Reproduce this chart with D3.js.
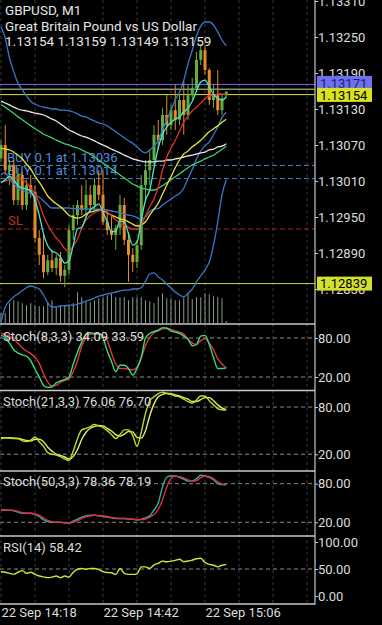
<!DOCTYPE html>
<html><head><meta charset="utf-8">
<script src="https://cdn.jsdelivr.net/npm/d3@7"></script>
<style>
html,body{margin:0;padding:0;background:#000;overflow:hidden;}
svg{display:block;}
text{font-family:Roboto,"Noto Sans",sans-serif;}
</style></head><body>
<svg id="c" width="382" height="625"></svg>
<script>
// ---------- DATA ----------
const titleLines = ["GBPUSD, M1", "Great Britain Pound vs US Dollar", "1.13154 1.13159 1.13149 1.13159"];
const timeLabels = ["22 Sep 14:18", "22 Sep 14:42", "22 Sep 15:06"];
const timeLabelBars = [0, 24, 48];
const priceTicks = [1.13310, 1.13250, 1.13190, 1.13130, 1.13070, 1.13010, 1.12950, 1.12890, 1.12830];

const opens = [1.13048,1.13070,1.13028,1.13037,1.12978,1.13020,1.12970,1.13003,1.12992,1.12915,1.12887,1.12858,1.12878,1.12865,1.12882,1.12852,1.12862,1.12928,1.12953,1.12970,1.12962,1.12987,1.12970,1.13003,1.12987,1.12942,1.12928,1.12920,1.12932,1.12970,1.12912,1.12887,1.12875,1.12903,1.13003,1.13028,1.13045,1.13087,1.13078,1.13120,1.13103,1.13128,1.13112,1.13145,1.13120,1.13153,1.13165,1.13212,1.13228,1.13195,1.13145,1.13153,1.13128,1.13154];
const highs = [1.13078,1.13103,1.13045,1.13045,1.13032,1.13025,1.13012,1.13020,1.13003,1.12928,1.12920,1.12887,1.12895,1.12887,1.12892,1.12870,1.12937,1.12970,1.12978,1.13003,1.13012,1.13003,1.13015,1.13028,1.13028,1.12962,1.12953,1.12937,1.12987,1.12982,1.12925,1.12898,1.12912,1.13020,1.13045,1.13062,1.13103,1.13112,1.13132,1.13153,1.13137,1.13170,1.13153,1.13178,1.13170,1.13182,1.13225,1.13238,1.13235,1.13198,1.13170,1.13195,1.13153,1.13159];
const lows = [1.13042,1.13020,1.13003,1.12970,1.12970,1.12962,1.12962,1.12982,1.12908,1.12870,1.12848,1.12853,1.12858,1.12853,1.12842,1.12833,1.12853,1.12912,1.12937,1.12953,1.12948,1.12958,1.12962,1.12978,1.12937,1.12920,1.12912,1.12895,1.12920,1.12903,1.12842,1.12858,1.12865,1.12895,1.12978,1.13003,1.13037,1.13062,1.13070,1.13087,1.13095,1.13095,1.13103,1.13087,1.13112,1.13145,1.13158,1.13203,1.13187,1.13137,1.13132,1.13120,1.13120,1.13149];
const closes = [1.13070,1.13028,1.13037,1.12978,1.13020,1.12970,1.13003,1.12992,1.12915,1.12887,1.12858,1.12878,1.12865,1.12882,1.12852,1.12862,1.12928,1.12953,1.12970,1.12962,1.12987,1.12970,1.13003,1.12987,1.12942,1.12928,1.12920,1.12932,1.12970,1.12912,1.12887,1.12875,1.12903,1.13003,1.13028,1.13045,1.13087,1.13078,1.13120,1.13103,1.13128,1.13112,1.13145,1.13120,1.13153,1.13165,1.13212,1.13228,1.13195,1.13145,1.13153,1.13128,1.13148,1.13159];
const volumes = [30,30,60,69,66,60,54,60,54,51,51,63,69,48,54,54,54,60,93,78,66,63,69,75,78,84,90,78,78,78,69,78,78,78,69,66,60,78,90,75,75,69,69,78,90,72,78,78,90,87,81,78,75,6];

const maFast = [1.13007,1.13012,1.13018,1.13012,1.13002,1.12998,1.12997,1.12993,1.12978,1.12953,1.12922,1.12902,1.12893,1.12890,1.12883,1.12873,1.12877,1.12903,1.12930,1.12933,1.12950,1.12962,1.12967,1.12972,1.12958,1.12942,1.12925,1.12927,1.12943,1.12942,1.12922,1.12903,1.12908,1.12945,1.12978,1.12995,1.13032,1.13065,1.13088,1.13100,1.13108,1.13113,1.13117,1.13125,1.13132,1.13143,1.13160,1.13175,1.13178,1.13167,1.13155,1.13148,1.13145,1.13150];
const maRed = [1.13008,1.13010,1.13012,1.13013,1.13015,1.13012,1.13007,1.12998,1.12988,1.12973,1.12952,1.12937,1.12925,1.12915,1.12907,1.12897,1.12893,1.12902,1.12913,1.12932,1.12945,1.12952,1.12957,1.12960,1.12962,1.12958,1.12952,1.12945,1.12940,1.12937,1.12933,1.12930,1.12930,1.12937,1.12952,1.12967,1.12980,1.13000,1.13028,1.13050,1.13065,1.13078,1.13093,1.13108,1.13118,1.13127,1.13133,1.13140,1.13147,1.13152,1.13153,1.13155,1.13155,1.13153];
const maYellow = [1.13065,1.13063,1.13062,1.13058,1.13053,1.13047,1.13038,1.13030,1.13018,1.13008,1.12997,1.12985,1.12978,1.12972,1.12967,1.12960,1.12953,1.12950,1.12948,1.12950,1.12955,1.12958,1.12960,1.12962,1.12960,1.12957,1.12953,1.12950,1.12947,1.12945,1.12942,1.12938,1.12935,1.12937,1.12942,1.12953,1.12963,1.12973,1.12988,1.13003,1.13017,1.13032,1.13045,1.13055,1.13060,1.13067,1.13072,1.13078,1.13085,1.13092,1.13097,1.13102,1.13108,1.13113];
const maGreen = [1.13137,1.13133,1.13128,1.13123,1.13117,1.13112,1.13107,1.13102,1.13097,1.13093,1.13088,1.13085,1.13082,1.13078,1.13075,1.13072,1.13070,1.13067,1.13065,1.13062,1.13058,1.13055,1.13050,1.13045,1.13040,1.13035,1.13030,1.13025,1.13020,1.13015,1.13010,1.13005,1.13002,1.12998,1.12997,1.12995,1.12995,1.12998,1.13002,1.13007,1.13012,1.13017,1.13022,1.13027,1.13032,1.13037,1.13040,1.13043,1.13047,1.13050,1.13053,1.13058,1.13063,1.13068];
const maWhite = [1.13143,1.13140,1.13137,1.13133,1.13130,1.13128,1.13127,1.13125,1.13123,1.13122,1.13120,1.13117,1.13113,1.13110,1.13105,1.13100,1.13095,1.13092,1.13088,1.13085,1.13083,1.13080,1.13077,1.13073,1.13070,1.13067,1.13063,1.13060,1.13057,1.13053,1.13050,1.13047,1.13045,1.13043,1.13042,1.13042,1.13042,1.13043,1.13043,1.13045,1.13045,1.13047,1.13048,1.13050,1.13052,1.13053,1.13055,1.13057,1.13058,1.13062,1.13063,1.13067,1.13068,1.13072];
const bbUpper = [1.13267,1.13248,1.13215,1.13192,1.13173,1.13162,1.13152,1.13143,1.13138,1.13135,1.13133,1.13132,1.13130,1.13130,1.13128,1.13128,1.13127,1.13125,1.13122,1.13118,1.13117,1.13113,1.13110,1.13107,1.13105,1.13102,1.13097,1.13092,1.13087,1.13082,1.13077,1.13073,1.13067,1.13060,1.13057,1.13062,1.13068,1.13078,1.13095,1.13112,1.13128,1.13145,1.13158,1.13178,1.13205,1.13228,1.13252,1.13268,1.13275,1.13275,1.13270,1.13258,1.13245,1.13235];
const bbMiddle = [1.13021,1.13024,1.13013,1.13005,1.12998,1.12995,1.12992,1.12989,1.12986,1.12983,1.12977,1.12970,1.12965,1.12965,1.12965,1.12965,1.12965,1.12964,1.12964,1.12963,1.12964,1.12963,1.12963,1.12963,1.12963,1.12962,1.12960,1.12959,1.12957,1.12955,1.12953,1.12952,1.12949,1.12946,1.12950,1.12959,1.12963,1.12964,1.12970,1.12975,1.12980,1.12985,1.12989,1.12998,1.13014,1.13029,1.13047,1.13060,1.13069,1.13075,1.13087,1.13100,1.13116,1.13124];
const bbLower = [1.12775,1.12800,1.12810,1.12817,1.12822,1.12827,1.12832,1.12835,1.12833,1.12830,1.12820,1.12807,1.12800,1.12800,1.12802,1.12802,1.12803,1.12803,1.12805,1.12807,1.12810,1.12812,1.12815,1.12818,1.12820,1.12822,1.12823,1.12825,1.12827,1.12828,1.12828,1.12830,1.12830,1.12832,1.12843,1.12855,1.12857,1.12850,1.12845,1.12838,1.12832,1.12825,1.12820,1.12817,1.12823,1.12830,1.12842,1.12852,1.12862,1.12875,1.12903,1.12942,1.12987,1.13012];

const alertPrice = 1.13171, askPrice = 1.13163, bidPrice = 1.13154, lowLevel = 1.12839;
const orderPrices = [1.13036, 1.13014];
const orderLabels = ["BUY 0.1 at 1.13036", "BUY 0.1 at 1.13014"];
const slPrice = 1.12930;

const stoch8K = [84,81,72,62,57,54,52,45,32,20,7,4,5,11,14,16,20,40,58,74,86,88,87,87,80,60,44,28,38,38,33,23,33,50,80,87,90,92,96,95,91,89,87,83,78,68,70,83,84,70,50,33,33,34.09];
const stoch8D = [87,85,83,78,72,65,60,56,50,41,25,12,6,7,12,15,17,28,45,68,80,86,86,86,84,76,57,40,33,33,32,31,35,50,68,81,88,91,94,95,93,91,89,86,78,72,70,76,79,72,62,48,40,33.59];
const stoch21K = [40,41,40.5,40,40,37,36,38,42,36,30,22,20,19,17,14,12,24,40,51,53,55,58,56,54,50,45,40,45,51,51,44,30,48,72,88,93,97,99,97,96,94,93,90,87,85,89,94,94,88,83,78,76.5,76.06];
const stoch21D = [41,41,41,40.5,40,39,37.5,37,39,39,36,29,24,20,18.5,16.5,14,17,26,39,48,53,55.5,56.5,56,53,49.5,45,43,45.5,49,48.5,41.5,40.5,50,69,84,93,96,97.5,97,95.5,94,92,90,87,87,89.5,92,92,88,83,79,76.70];
const stoch50K = [39,39,39,38,36,34,34,34,32,29,24,21,20,20,20,19,19,22,25,28,30,31,31,30,29.5,28,27,26,26,26,25,25,23.5,25,27,30,39,50,75,90,92,92,90,87,84,84,88,93,92,90,86,80,78.5,78.36];
const stoch50D = [40,39.5,39,38.5,37,35,34,34,33,31,27,23,21,20,20,19.5,19,20,22.5,26,28.5,30,31,30.5,30,29,27.5,26.5,26,26,25.5,25,24.5,24,25,28,32,40,55,75,88,91.5,91,89,86,84,85,89.5,92,91,88,83,79.5,78.19];
const rsi14 = [45,44,42,40.5,44,47,42,44,40,37,35.5,34,35,37,34,37,35,44,49.5,51,49.5,51,51,49,45,43.5,43,40,51,42,40,40,41,54,54,51,57.5,60.5,64.5,63.5,64.5,66,68,63.5,64.8,66.5,69,70,62,58.7,57,54,57,58.42];

// ---------- LAYOUT ----------
const AX = 315;          // right axis x
const svg = d3.select("#c");
svg.append("rect").attr("width",382).attr("height",625).attr("fill","#000");
const defs = svg.append("defs");
function clipRect(id, y0, y1){
  defs.append("clipPath").attr("id",id).append("rect").attr("x",0).attr("y",y0).attr("width",AX).attr("height",y1-y0);
  return `url(#${id})`;
}
const nBars = closes.length;
const x = d3.scaleLinear().domain([0, 73.88]).range([1, AX]);
const idx = d3.range(nBars);

// vertical grid
const gridBars = d3.range(0, 74, 8);
svg.append("g").selectAll("line").data(gridBars).join("line")
  .attr("x1", d=>x(d)).attr("x2", d=>x(d)).attr("y1",0).attr("y2",604)
  .attr("stroke","#3a3a3a").attr("stroke-width",1).attr("stroke-dasharray","3,3");

// ---------- MAIN PANEL ----------
const yM = d3.scaleLinear().domain([1.12790, 1.13310]).range([313, 1]);
const yVol = d3.scaleLinear().domain([0, 100]).range([323, 290]);
const main = svg.append("g").attr("clip-path", clipRect("cm", 0, 323));

// volumes
main.append("g").selectAll("line").data(idx).join("line")
  .attr("x1", i=>x(i)).attr("x2", i=>x(i)).attr("y1", yVol(0)).attr("y2", i=>yVol(volumes[i]))
  .attr("stroke","#8c9a8c").attr("stroke-width",1);

// order / SL labels (behind)
main.append("g").selectAll("text").data(orderPrices).join("text")
  .attr("x",7).attr("y", d=>yM(d)-3.5).attr("fill","#4f8fdc").attr("font-size",13)
  .text((d,i)=>orderLabels[i]);
main.append("text").attr("x",8).attr("y", yM(slPrice)-4).attr("fill","#b8352f").attr("font-size",13).text("SL");

// horizontal lines
main.selectAll("line.ord").data(orderPrices).join("line").attr("class","ord")
  .attr("x1",0).attr("x2",AX).attr("y1",d=>yM(d)).attr("y2",d=>yM(d))
  .attr("stroke","#4a82cc").attr("stroke-dasharray","5,3").attr("stroke-width",1);
main.append("line").attr("x1",0).attr("x2",AX).attr("y1",yM(slPrice)).attr("y2",yM(slPrice))
  .attr("stroke","#9e2c28").attr("stroke-dasharray","5,3").attr("stroke-width",1);
const levelLines = [[alertPrice,"#7b6cf0"],[askPrice,"#c4e09a"],[bidPrice,"#d8e040"],[lowLevel,"#c9d94e"]];
main.selectAll("line.lvl").data(levelLines).join("line").attr("class","lvl")
  .attr("x1",0).attr("x2",AX).attr("y1",d=>yM(d[0])).attr("y2",d=>yM(d[0]))
  .attr("stroke",d=>d[1]).attr("stroke-width",1);

// candles
const bullC = "#62ad3e", bearC = "#e58b2c";
const cg = main.append("g");
cg.selectAll("line").data(idx).join("line")
  .attr("x1",i=>x(i)).attr("x2",i=>x(i)).attr("y1",i=>yM(highs[i])).attr("y2",i=>yM(lows[i]))
  .attr("stroke",i=>closes[i]>=opens[i]?bullC:bearC).attr("stroke-width",1);
cg.selectAll("rect").data(idx).join("rect")
  .attr("x",i=>x(i)-1.5).attr("width",3)
  .attr("y",i=>yM(Math.max(opens[i],closes[i])))
  .attr("height",i=>Math.max(1, Math.abs(yM(opens[i])-yM(closes[i]))))
  .attr("fill",i=>closes[i]>=opens[i]?bullC:bearC);

// indicator lines
const lineM = arr => d3.line().x((d,i)=>x(i)).y(d=>yM(d)).curve(d3.curveMonotoneX)(arr);
[[bbUpper,"#3a78c8"],[bbMiddle,"#3a78c8"],[bbLower,"#3a78c8"],
 [maWhite,"#ece4e4"],[maGreen,"#3ccf78"],[maYellow,"#e6e23c"],[maRed,"#e0322c"],[maFast,"#48e6cc"]]
 .forEach(([arr,c])=>{
   main.append("path").attr("d", lineM(arr)).attr("fill","none").attr("stroke",c).attr("stroke-width",1.3);
 });

// title
const tg = svg.append("g").attr("fill","#e6e6e6").attr("font-size",13.5);
tg.selectAll("text").data(titleLines).join("text").attr("x",5).attr("y",(d,i)=>15+i*15.5).text(d=>d);

// price axis
const axM = svg.append("g").attr("transform",`translate(${AX},0)`)
  .call(d3.axisRight(yM).tickValues(priceTicks).tickFormat(d3.format(".5f")).tickSize(3).tickPadding(0));
function styleAxis(g){
  g.select(".domain").remove();
  g.selectAll(".tick line").attr("stroke","#cfcfcf");
  g.selectAll(".tick text").attr("fill","#dcdcdc").attr("font-size",13).attr("font-family","Roboto");
}
styleAxis(axM);

// price boxes
function priceBox(p, fill, txt, yc){
  const g = svg.append("g");
  g.append("rect").attr("x",317).attr("y",yc-7).attr("width",55).attr("height",14).attr("fill",fill);
  g.append("text").attr("x",320).attr("y",yc+4.7).attr("fill",txt).attr("font-size",13).text(d3.format(".5f")(p));
}
priceBox(alertPrice, "#6f70ef", "#1b1f6a", yM(alertPrice)-1.5);
priceBox(bidPrice, "#d9e21e", "#000", yM(bidPrice)+0.3);
priceBox(lowLevel, "#d4e12c", "#000", yM(lowLevel));

// ---------- OSCILLATOR PANELS ----------
function osc(cfg){
  const y = d3.scaleLinear().domain([0,100]).range([cfg.y0, cfg.y100]);
  const g = svg.append("g").attr("clip-path", clipRect(cfg.id, cfg.top, cfg.bottom));
  g.selectAll("line.lv").data(cfg.levels).join("line").attr("class","lv")
    .attr("x1",0).attr("x2",AX).attr("y1",d=>y(d)).attr("y2",d=>y(d))
    .attr("stroke","#8a8a8a").attr("stroke-dasharray","4,3").attr("stroke-width",1);
  cfg.series.forEach(([arr,c])=>{
    g.append("path").attr("d", d3.line().x((d,i)=>x(i)).y(d=>y(d)).curve(d3.curveMonotoneX)(arr))
      .attr("fill","none").attr("stroke",c).attr("stroke-width",1.4);
  });
  svg.append("text").attr("x",3).attr("y",cfg.titleY).attr("fill","#dcdcdc").attr("font-size",13).text(cfg.title);
  const ax = svg.append("g").attr("transform",`translate(${AX},0)`)
    .call(d3.axisRight(y).tickValues(cfg.ticks).tickFormat(d3.format(".2f")).tickSize(3).tickPadding(0));
  styleAxis(ax);
}
osc({id:"c8", top:325, bottom:390, y0:390, y100:325, levels:[80,20], ticks:[80,20],
     series:[[stoch8D,"#e23636"],[stoch8K,"#34de7e"]], title:"Stoch(8,3,3) 34.09 33.59", titleY:341});
osc({id:"c21", top:391, bottom:470, y0:470, y100:391.3, levels:[80,20], ticks:[80,20],
     series:[[stoch21D,"#e6ee66"],[stoch21K,"#b8dc2a"]], title:"Stoch(21,3,3) 76.06 76.70", titleY:406});
osc({id:"c50", top:472, bottom:535, y0:535.2, y100:470.8, levels:[80,20], ticks:[80,20],
     series:[[stoch50K,"#25b8a2"],[stoch50D,"#ee2444"]], title:"Stoch(50,3,3) 78.36 78.19", titleY:486});
osc({id:"cr", top:537, bottom:603, y0:596, y100:542, levels:[50], ticks:[100,50,0],
     series:[[rsi14,"#d6e23a"]], title:"RSI(14) 58.42", titleY:552});

// panel borders
const borders = [324, 390.5, 471, 536, 604];
svg.append("g").selectAll("line").data(borders).join("line")
  .attr("x1",0).attr("x2",AX).attr("y1",d=>d).attr("y2",d=>d).attr("stroke","#c8c8c8").attr("stroke-width",1.5);
svg.append("line").attr("x1",AX).attr("x2",AX).attr("y1",0).attr("y2",604.5).attr("stroke","#c8c8c8").attr("stroke-width",1.2);

// time axis
const axT = svg.append("g").attr("transform","translate(0,604)")
  .call(d3.axisBottom(x).tickValues(timeLabelBars).tickFormat((d,i)=>timeLabels[i]).tickSize(0).tickPadding(4));
axT.select(".domain").remove();
axT.selectAll(".tick text").attr("text-anchor","start").attr("fill","#dcdcdc").attr("font-size",13).attr("font-family","Roboto");
</script>
</body></html>
